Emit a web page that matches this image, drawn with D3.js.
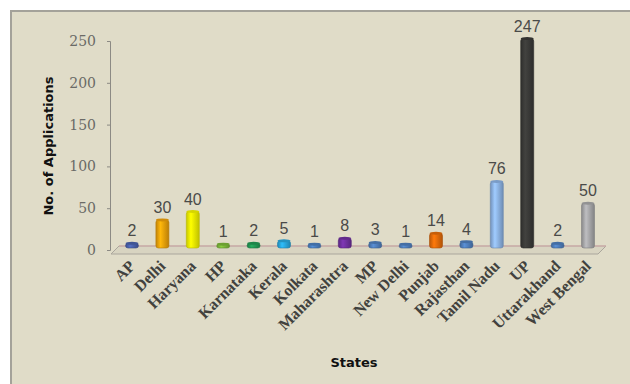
<!DOCTYPE html>
<html lang="en">
<head>
<meta charset="UTF-8">
<script src="https://cdn.jsdelivr.net/npm/d3@7"></script>
<title>Applications by State</title>
<style>
  body { margin: 0; background: #fff; }
  .ytick text { font-family: "DejaVu Serif", serif; font-size: 14px; fill: #6a6a66; }
  .xlab { font-family: "Liberation Serif", serif; font-weight: bold; font-size: 16px; fill: #42423e; }
  .val { font-family: "Liberation Sans", Arial, sans-serif; font-size: 16px; fill: #4a4a48; }
  .title { font-family: "DejaVu Sans", sans-serif; font-weight: bold; font-size: 13px; fill: #111; }
</style>
</head>
<body>
<div id="chart"></div>
<script>
// data
var states = ["AP", "Delhi", "Haryana", "HP", "Karnataka", "Kerala", "Kolkata", "Maharashtra",
              "MP", "New Delhi", "Punjab", "Rajasthan", "Tamil Nadu", "UP", "Uttarakhand", "West Bengal"];
var applications = [2, 30, 40, 1, 2, 5, 1, 8, 3, 1, 14, 4, 76, 247, 2, 50];
var barColors = ["#4a62ad", "#f0a20a", "#f7f700", "#7cb83a", "#239a55", "#29a8de", "#4a7fc0", "#7030a0",
                 "#4f7fbd", "#4f7fbd", "#e46c0a", "#4f7fbd", "#8db4e6", "#3a3a38", "#4f7fbd", "#a8a8aa"];
var yTicks = [0, 50, 100, 150, 200, 250];

var W = 630, H = 384;
var svg = d3.select("#chart").append("svg").attr("width", W).attr("height", H);

// panel
svg.append("rect").attr("x", 11).attr("y", 11).attr("width", W).attr("height", H)
   .attr("fill", "#e0dcc8").attr("stroke", "#a4a29a").attr("stroke-width", 2);

var x = d3.scalePoint().domain(states).range([132, 588]);
var y = d3.scaleLinear().domain([0, 250]).range([250, 41]);
var bw = 13, lift = 5;   // bar width, 3-D setback of bars above the axis zero

var defs = svg.append("defs");
barColors.forEach(function (c, i) {
    var g = defs.append("linearGradient").attr("id", "g" + i);
    var base = d3.color(c);
    g.append("stop").attr("offset", "0%").attr("stop-color", base.darker(0.6));
    g.append("stop").attr("offset", "35%").attr("stop-color", base.brighter(0.35));
    g.append("stop").attr("offset", "100%").attr("stop-color", base.darker(0.7));
});

// 3-D floor
var fl = 111, fr = 598, fz = y(0);
svg.append("path")
   .attr("d", "M" + fl + "," + (fz + 4) + "L" + (fl + 8) + "," + (fz - 4) + "L" + (fr + 8) + "," + (fz - 4) +
              "L" + fr + "," + (fz + 4) + "Z")
   .attr("fill", "#d8d4c1").attr("stroke", "#aaa69c").attr("stroke-width", 1);
svg.append("line").attr("x1", fl + 8).attr("x2", fr + 8).attr("y1", fz - 4).attr("y2", fz - 4)
   .attr("stroke", "#d4a9a9").attr("stroke-width", 1);

// y axis
var yAxis = d3.axisLeft(y).tickValues(yTicks).tickSize(3).tickPadding(11);
var ya = svg.append("g").attr("class", "ytick").attr("transform", "translate(110,0)").call(yAxis);
ya.select(".domain").attr("stroke", "#8c8a84");
ya.selectAll(".tick line").attr("stroke", "#8c8a84");

// bars as cylinders
var barBase = fz - 2;
function barTop(d) { return Math.min(y(d) - lift, barBase - 3); }
var bars = svg.append("g").selectAll("g").data(applications).enter().append("g");
bars.append("rect")
    .attr("x", function (d, i) { return x(states[i]) - bw / 2; })
    .attr("y", barTop)
    .attr("width", bw)
    .attr("height", function (d) { return barBase - barTop(d); })
    .attr("rx", 2.5)
    .attr("fill", function (d, i) { return "url(#g" + i + ")"; })
    .attr("stroke", function (d, i) { return d3.color(barColors[i]).darker(0.8); })
    .attr("stroke-width", 0.6);
bars.append("ellipse")
    .attr("cx", function (d, i) { return x(states[i]); })
    .attr("cy", barTop)
    .attr("rx", bw / 2).attr("ry", 1.5)
    .attr("fill", function (d, i) { return d3.color(barColors[i]).darker(0.4); });

// value labels
svg.append("g").selectAll("text").data(applications).enter().append("text")
   .attr("class", "val")
   .attr("x", function (d, i) { return x(states[i]); })
   .attr("y", function (d) { return barTop(d) - 7; })
   .attr("text-anchor", "middle")
   .text(function (d) { return d; });

// x labels
svg.append("g").selectAll("text").data(states).enter().append("text")
   .attr("class", "xlab")
   .attr("text-anchor", "end")
   .attr("transform", function (d) {
       return "translate(" + (x(d) + 4) + "," + (fz + 17) + ") rotate(-45)";
   })
   .text(function (d) { return d; });

// axis titles
svg.append("text").attr("class", "title")
   .attr("transform", "translate(53,146) rotate(-90)")
   .attr("text-anchor", "middle").text("No. of Applications");
svg.append("text").attr("class", "title")
   .attr("x", 354).attr("y", 367).attr("text-anchor", "middle").text("States");
</script>
</body>
</html>
